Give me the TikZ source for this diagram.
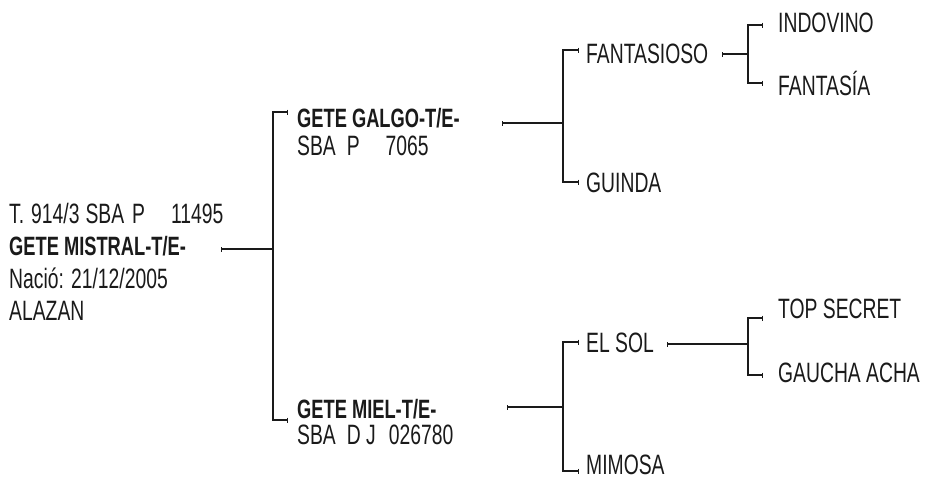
\documentclass[tikz,border=0pt]{standalone}
\usepackage{fontspec}
\usetikzlibrary{arrows.meta}
\newfontfamily\lbfont{Liberation Sans}[FakeStretch=0.69]
\definecolor{ink}{HTML}{1A1A1A}
\tikzset{
  lbl/.style={anchor=base west, inner sep=0pt, text=ink, font=\fontsize{28}{32}\lbfont},
  nm/.style={lbl, font=\fontsize{26.5}{32}\lbfont\bfseries},
  lnk/.style={line width=1.3pt, draw=ink, line join=miter},
  barboth/.style={{Bar[width=5pt]}-{Bar[width=5pt]}},
  barstart/.style={{Bar[width=5pt]}-},
}
\begin{document}
\begin{tikzpicture}[x=1pt,y=-1pt]
\useasboundingbox (0,0) rectangle (927,480);
% root
\node[lbl] (r1) at (9,223) {T.\hspace{7pt}914/3\hspace{6pt}SBA\hspace{8pt}P\hspace{26pt}11495};
\node[nm]  (root) at (9,255.5) {GETE MISTRAL-T/E-};
\node[lbl] (r3) at (9,288) {Nació: 21/12/2005};
\node[lbl] (r4) at (9,320.5) {ALAZAN};
% level 1
\node[nm]  (galgo) at (297,127) {GETE GALGO-T/E-};
\node[lbl] (galgo2) at (297,155) {SBA\hspace{11pt}P\hspace{26pt}7065};
\node[nm]  (miel) at (297,418) {GETE MIEL-T/E-};
\node[lbl] (miel2) at (297,444) {SBA\hspace{11pt}D J\hspace{13pt}026780};
% level 2
\node[lbl] (fant) at (586,63) {FANTASIOSO};
\node[lbl] (guin) at (586,192) {GUINDA};
\node[lbl] (sol)  at (586,352) {EL SOL};
\node[lbl] (mim)  at (586,474) {MIMOSA};
% level 3
\node[lbl] (ind) at (778,32) {INDOVINO};
\node[lbl] (fsa) at (778,95) {FANTASÍA};
\node[lbl] (top) at (778,318) {TOP SECRET};
\node[lbl] (gau) at (778,382) {GAUCHA ACHA};
% coordinates
\coordinate (rs) at (221,249);  \coordinate (rj) at (273,249);
\coordinate (rt) at (273,112);  \coordinate (rb) at (273,420);
\coordinate (rte) at (288,112); \coordinate (rbe) at (288,420);
\coordinate (gs) at (502,123);  \coordinate (gj) at (563,123);
\coordinate (gt) at (563,50);   \coordinate (gb) at (563,182);
\coordinate (gte) at (579,50);  \coordinate (gbe) at (579,182);
\coordinate (ms) at (507,407);  \coordinate (mj) at (563,407);
\coordinate (mt) at (563,342);  \coordinate (mb) at (563,471);
\coordinate (mte) at (579,342); \coordinate (mbe) at (579,471);
\coordinate (fs) at (722,54);   \coordinate (fj) at (748,54);
\coordinate (ft) at (748,25);   \coordinate (fb) at (748,83);
\coordinate (fte) at (763,25);  \coordinate (fbe) at (763,83);
\coordinate (ss) at (667,344);  \coordinate (sj) at (748,344);
\coordinate (st) at (748,318);  \coordinate (sb) at (748,375);
\coordinate (ste) at (763,318); \coordinate (sbe) at (763,375);
% connectors
\draw[lnk,barstart] (rs) -- (rj);
\draw[lnk,barboth] (rte) -- (rt) -- (rb) -- (rbe);
\draw[lnk,barstart] (gs) -- (gj);
\draw[lnk,barboth] (gte) -- (gt) -- (gb) -- (gbe);
\draw[lnk,barstart] (ms) -- (mj);
\draw[lnk,barboth] (mte) -- (mt) -- (mb) -- (mbe);
\draw[lnk,barstart] (fs) -- (fj);
\draw[lnk,barboth] (fte) -- (ft) -- (fb) -- (fbe);
\draw[lnk,barstart] (ss) -- (sj);
\draw[lnk,barboth] (ste) -- (st) -- (sb) -- (sbe);
\end{tikzpicture}
\end{document}
